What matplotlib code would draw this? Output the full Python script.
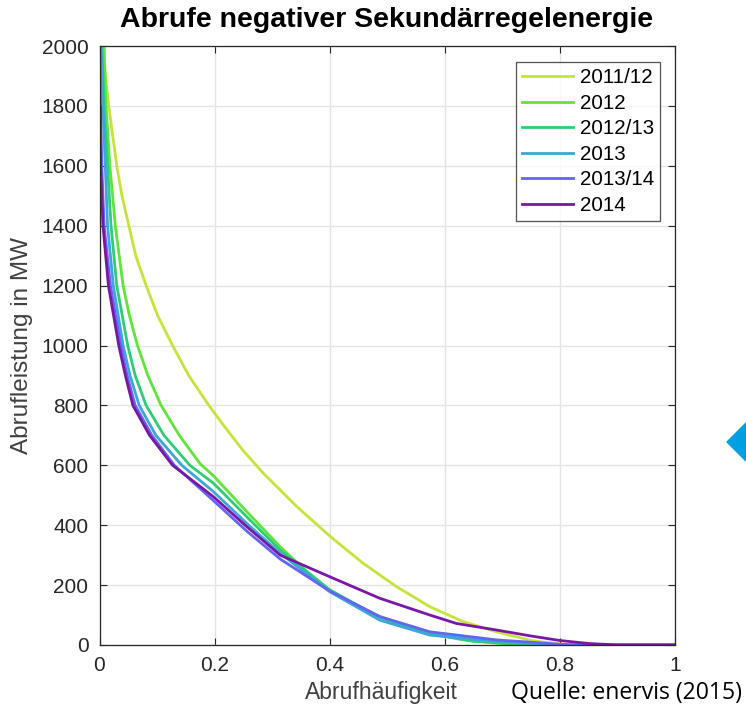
import matplotlib
matplotlib.use("Agg")
import matplotlib.pyplot as plt
from matplotlib.patches import Polygon

# ---- data ----
labels = ["2011/12", "2012", "2012/13", "2013", "2013/14", "2014"]
colors = ["#c4e43c", "#5ee43a", "#2fcc76", "#3ca6d8", "#6464f4", "#7a16a6"]

x_2011_12 = [0, 0.0056, 0.010, 0.016, 0.023, 0.030, 0.039, 0.051, 0.063, 0.081, 0.101, 0.127, 0.155,
             0.19, 0.217, 0.25, 0.285, 0.343, 0.40, 0.458, 0.516, 0.574, 0.632, 0.69, 0.75, 0.8, 0.85, 1.0]
y_2011_12 = [2100, 2000, 1900, 1800, 1700, 1600, 1500, 1400, 1300, 1200, 1100, 1000, 900,
             800, 730, 648, 573, 462, 364, 273, 195, 128, 78, 44, 15, 3, 0, 0]

x_2012 = [0, 0.008, 0.0113, 0.018, 0.0275, 0.041, 0.052, 0.066, 0.084, 0.107, 0.14, 0.175, 0.198,
          0.256, 0.314, 0.36, 0.40, 0.44, 0.487, 0.53, 0.574, 0.63, 0.69, 0.74, 1.0]
y_2012 = [2100, 2000, 1800, 1600, 1400, 1200, 1100, 1000, 900, 800, 696, 605, 565,
          445, 328, 245, 184, 140, 95, 63, 39, 18, 6, 0, 0]

x_2012_13 = [0, 0.004, 0.008, 0.014, 0.020, 0.030, 0.049, 0.062, 0.081, 0.112, 0.157, 0.198,
             0.256, 0.314, 0.40, 0.487, 0.574, 0.65, 0.76, 1.0]
y_2012_13 = [2100, 2000, 1800, 1600, 1400, 1200, 1000, 900, 800, 700, 600, 540,
             428, 317, 184, 92, 38, 12, 0, 0]

x_2013 = [0, 0.003, 0.006, 0.010, 0.014, 0.024, 0.041, 0.053, 0.069, 0.098, 0.143, 0.198,
          0.256, 0.314, 0.40, 0.487, 0.574, 0.69, 0.80, 1.0]
y_2013 = [2100, 2000, 1800, 1600, 1400, 1200, 1000, 900, 800, 700, 600, 512,
          406, 306, 178, 83, 33, 12, 0, 0]

x_2013_14 = [0, 0.001, 0.002, 0.004, 0.008, 0.019, 0.037, 0.048, 0.062, 0.091, 0.13, 0.198,
             0.256, 0.314, 0.40, 0.487, 0.574, 0.69, 0.82, 1.0]
y_2013_14 = [2100, 2000, 1800, 1600, 1400, 1200, 1000, 900, 800, 700, 600, 482,
             380, 287, 180, 95, 44, 17, 0, 0]

x_2014 = [0, 0, 0.001, 0.002, 0.006, 0.0155, 0.0335, 0.045, 0.058, 0.087, 0.127, 0.198,
          0.256, 0.314, 0.40, 0.487, 0.574, 0.62, 0.69, 0.75, 0.8, 0.85, 0.9, 1.0]
y_2014 = [1950, 1650, 1800, 1600, 1400, 1200, 1000, 900, 800, 700, 600, 495,
          395, 300, 228, 156, 100, 72, 50, 30, 15, 5, 0, 0]

series_x = [x_2011_12, x_2012, x_2012_13, x_2013, x_2013_14, x_2014]
series_y = [y_2011_12, y_2012, y_2012_13, y_2013, y_2013_14, y_2014]

xticks = [0, 0.2, 0.4, 0.6, 0.8, 1]
xticklabels = ["0", "0.2", "0.4", "0.6", "0.8", "1"]
yticks = [0, 200, 400, 600, 800, 1000, 1200, 1400, 1600, 1800, 2000]

title = "Abrufe negativer Sekundärregelenergie"
xlabel = "Abrufhäufigkeit"
ylabel = "Abrufleistung in MW"
source = "Quelle: enervis (2015)"

# ---- figure ----
W, H = 746, 714
plt.rcParams['font.family'] = ['Liberation Sans', 'DejaVu Sans']
fig = plt.figure(figsize=(W / 100, H / 100), dpi=100)
ax_l, ax_r, ax_t, ax_b = 99.5, 675, 46, 645
ax = fig.add_axes([ax_l / W, 1 - ax_b / H, (ax_r - ax_l) / W, (ax_b - ax_t) / H])

for xs, ys, c, lab in zip(series_x, series_y, colors, labels):
    ax.plot(xs, ys, color=c, lw=2.0, label=lab, solid_joinstyle='round')

ax.set_xlim(0, 1)
ax.set_ylim(0, 2000)
ax.set_xticks(xticks)
ax.set_xticklabels(xticklabels)
ax.set_yticks(yticks)
ax.grid(True, color="#e4e4e4", lw=1.0)
ax.set_axisbelow(True)
ax.tick_params(direction='in', top=True, right=True, length=5, width=0.8,
               colors="#262626", labelsize=15, pad=8)
for s in ax.spines.values():
    s.set_color("#262626")
    s.set_linewidth(0.9)

fig.text(386.5 / W, 1 - 20 / H, title, ha='center', va='center', fontsize=20.5,
         fontweight='bold', color="#000000")

ax.set_xlabel(xlabel, fontsize=16.5, color="#404040")
ax.xaxis.label.set_va('center')
ax.xaxis.set_label_coords((381 - ax_l) / (ax_r - ax_l), (ax_b - 693) / (ax_b - ax_t))
ax.set_ylabel(ylabel, fontsize=17.5, color="#404040")
ax.yaxis.label.set_va('center')
ax.yaxis.set_label_coords((22 - ax_l) / (ax_r - ax_l), 0.5)

leg = ax.legend(loc='upper right',
                bbox_to_anchor=(1 - 15 / (ax_r - ax_l), 1 - 16 / (ax_b - ax_t)),
                borderaxespad=0, fontsize=14.8,
                frameon=True, fancybox=False, handlelength=2.5, handletextpad=0.3,
                labelspacing=0.32, borderpad=0.3)
leg.get_frame().set_edgecolor("#262626")
leg.get_frame().set_linewidth(0.9)

fig.text(742 / W, 1 - 693 / H, source, ha='right', va='center',
         fontsize=16.6, family=['Open Sans', 'DejaVu Sans'], color="#000000")

diamond = Polygon([[727 / W, 1 - 442 / H], [748 / W, 1 - 421 / H],
                   [769 / W, 1 - 442 / H], [748 / W, 1 - 463 / H]],
                  closed=True, transform=fig.transFigure, color="#009fe3", clip_on=False)
fig.patches.append(diamond)

fig.savefig("out.png", dpi=100)
